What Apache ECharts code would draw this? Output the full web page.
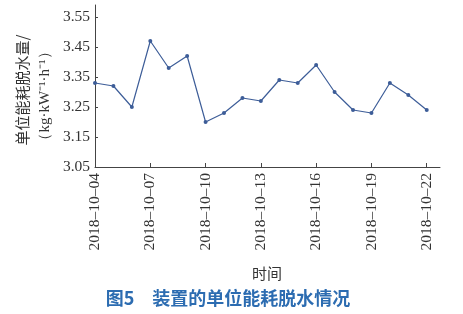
<!DOCTYPE html>
<html>
<head>
<meta charset="utf-8">
<script src="https://cdn.jsdelivr.net/npm/echarts@6/dist/echarts.min.js"></script>
<style>
html,body{margin:0;padding:0;background:#fff;}
#main{width:463px;height:314px;}
</style>
</head>
<body>
<div id="main"></div>
<script>
const dates = ['2018-10-04','2018-10-05','2018-10-06','2018-10-07','2018-10-08','2018-10-09','2018-10-10','2018-10-11','2018-10-12','2018-10-13','2018-10-14','2018-10-15','2018-10-16','2018-10-17','2018-10-18','2018-10-19','2018-10-20','2018-10-21','2018-10-22'];
const values = [3.33,3.32,3.25,3.47,3.38,3.42,3.20,3.23,3.28,3.27,3.34,3.33,3.39,3.30,3.24,3.23,3.33,3.29,3.24];
const yLabelLine1 = '单位能耗脱水量/';
const yLabelLine2 = '（kg·kW⁻¹·h⁻¹）';
const xName = '时间';
const caption = '图5　装置的单位能耗脱水情况';

const serif = '"Liberation Serif", "Times New Roman", serif';
const chart = echarts.init(document.getElementById('main'), null, {renderer: 'canvas'});
chart.setOption({
  animation: false,
  backgroundColor: '#fff',
  grid: {left: 95, right: 23, top: 5, bottom: 147, containLabel: false},
  xAxis: {
    type: 'value', min: 0, max: 18.72, interval: 3,
    axisLine: {show: true, lineStyle: {color: '#444', width: 1}},
    axisTick: {show: true, inside: true, length: 4, lineStyle: {color: '#444'}},
    splitLine: {show: false},
    axisLabel: {
      rotate: 90, margin: 6, fontSize: 15.5, fontFamily: serif, color: '#333',
      showMaxLabel: false,
      formatter: v => (dates[v] !== undefined ? dates[v].replace(/-/g, '–') : '')
    }
  },
  yAxis: {
    type: 'value', min: 3.05, max: 3.59, interval: 0.1,
    axisLine: {show: true, lineStyle: {color: '#444', width: 1}},
    axisTick: {show: true, inside: true, length: 3, lineStyle: {color: '#444'}},
    splitLine: {show: false},
    axisLabel: {
      margin: 5, fontSize: 15.5, fontFamily: serif, color: '#333',
      showMaxLabel: false,
      formatter: v => v.toFixed(2)
    }
  },
  series: [{
    type: 'line',
    data: values.map((v, i) => [i, v]),
    symbol: 'circle', symbolSize: 4,
    lineStyle: {color: '#3d5d98', width: 1.2},
    itemStyle: {color: '#3d5d98'}
  }],
  graphic: [
    {type: 'text', x: 22, y: 90, rotation: Math.PI / 2,
     style: {text: yLabelLine1, fontSize: 15, fontFamily: '"Noto Sans CJK SC", sans-serif', fill: '#333', align: 'center', verticalAlign: 'middle'}},
    {type: 'text', x: 45, y: 96, rotation: Math.PI / 2,
     style: {text: yLabelLine2, fontSize: 15, fontFamily: serif, fill: '#333', align: 'center', verticalAlign: 'middle'}},
    {type: 'text', x: 267, y: 273,
     style: {text: xName, fontSize: 15, fontFamily: '"Noto Sans CJK SC", sans-serif', fill: '#333', align: 'center', verticalAlign: 'middle'}},
    {type: 'text', x: 228, y: 298,
     style: {text: caption, fontSize: 18, fontWeight: 'bold', fontFamily: '"Noto Sans CJK SC", sans-serif', fill: '#2c6cb1', align: 'center', verticalAlign: 'middle'}}
  ]
});
</script>
</body>
</html>
